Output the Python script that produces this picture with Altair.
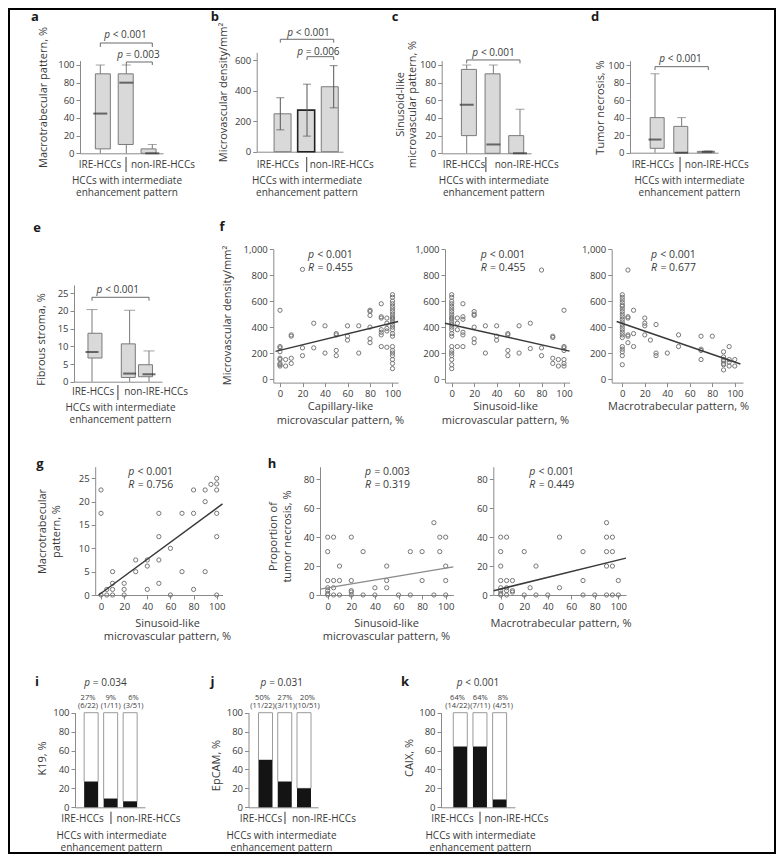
import altair as alt
import pandas as pd

# ---------------- layout constants ----------------
PAD = 1
OFF = 8 + PAD
W, H = 768 - 2 * PAD, 846 - 2 * PAD
FONT = "Open Sans"
TXT = "#3a3a3a"
AXC = "#8a8a8a"
BOX_F = "#d9d9d9"
BOX_S = "#7a7a7a"
MED = "#333333"
PT = "#777777"
LINE = "#3a3a3a"

# ---------------- data ----------------
groups = [1, 2, 3]  # IRE-HCCs, non-IRE-HCCs (2 subgroups)
e_groups = [1, 2.32, 3]  # panel e: boxes 2 and 3 drawn close together

# a: macrotrabecular pattern, %
a_lo = [0, 0, 0]
a_q1 = [5, 10, 0]
a_med = [45, 80, 0]
a_q3 = [90, 90, 5]
a_hi = [100, 100, 10]

# b: microvascular density (mean, SD)
b_mean = [248, 272, 425]
b_sd = [105, 170, 138]

# c: sinusoid-like microvascular pattern, %
c_lo = [0, 0, 0]
c_q1 = [20, 0, 0]
c_med = [55, 10, 0]
c_q3 = [95, 90, 20]
c_hi = [100, 100, 50]

# d: tumor necrosis, %
d_lo = [0, 0, 0]
d_q1 = [5, 0, 0]
d_med = [15, 0, 1]
d_q3 = [40, 30, 1.5]
d_hi = [90, 40, 2]

# e: fibrous stroma, %
e_lo = [0, 0, 0]
e_q1 = [6.7, 1.2, 1.4]
e_med = [8.4, 2.3, 2.1]
e_q3 = [13.7, 10.7, 4.8]
e_hi = [20.4, 20.2, 8.7]

# f: microvascular density vs patterns (x value -> list of y values)
f1_pts = {0: [530, 250, 240, 210, 160, 150, 120, 110, 100], 5: [150, 100],
          10: [340, 330, 160, 120], 20: [845, 240, 180], 30: [430, 240],
          40: [410, 200], 50: [350, 340, 220, 180], 60: [410, 330, 300],
          70: [410, 200], 80: [530, 520, 490, 400, 310, 280],
          90: [580, 480, 470, 380, 360, 340, 250], 95: [470, 430, 390, 370, 245],
          100: [650, 630, 600, 580, 560, 540, 520, 500, 480, 470, 460, 440, 420,
                400, 380, 350, 330, 250, 220, 200, 180, 150, 120, 80]}
f2_pts = {0: [650, 630, 600, 580, 560, 540, 520, 500, 480, 470, 460, 440, 420,
              400, 380, 350, 330, 250, 220, 200, 180, 150, 110, 80],
          5: [470, 430, 380, 250], 10: [580, 480, 460, 360, 340, 250],
          20: [520, 500, 490, 400, 310, 280], 30: [410, 200], 40: [410, 330, 300],
          50: [350, 340, 220, 180], 60: [410, 200], 70: [430, 235],
          80: [840, 240, 180], 90: [330, 320, 160, 120], 95: [150, 100],
          100: [530, 250, 240, 220, 150, 120, 100]}
f3_pts = {0: [650, 630, 610, 590, 570, 560, 540, 520, 500, 480, 460, 440, 420,
              400, 380, 360, 340, 320, 250, 230, 210, 180, 110],
          5: [840, 480, 470, 340, 330, 280], 10: [530, 350, 250],
          20: [470, 430, 410, 340], 25: [300], 30: [420, 200, 180], 40: [200],
          50: [340, 250], 70: [330, 230, 220, 150], 80: [330],
          90: [210, 170, 150, 140, 120, 110, 70], 95: [250, 150, 130, 100],
          100: [150, 100]}
f1_fit = ([-4, 105], [213, 443])
f2_fit = ([-6, 105], [430, 215])
f3_fit = ([-5, 105], [443, 115])

# g: macrotrabecular vs sinusoid-like
g_pts = {0: [22.5, 17.5, 0], 5: [1.2, 0], 10: [5, 2.5, 1.2, 0], 20: [2.5, 1.2, 0],
         30: [7.5, 5], 40: [7.5, 6.2, 1.2], 50: [17.5, 12.5, 7.5, 2.5],
         60: [10, 0], 70: [17.5, 5], 80: [22.5, 17.5, 1.2], 90: [22.5, 20, 5],
         95: [23.7], 100: [25, 23.8, 22.5, 17.5, 12.5, 0]}
g_fit = ([-2, 105], [0, 19.5])

# h: tumor necrosis vs sinusoid-like / macrotrabecular
h1_pts = {0: [40, 30, 10, 5, 3, 1, 0], 5: [40, 10, 5, 0], 10: [20, 10, 0],
          20: [40, 10, 3, 2, 0], 30: [30, 0], 40: [5, 0], 50: [20, 10, 5],
          60: [0], 70: [30, 0], 80: [30, 10], 90: [50, 0], 95: [40, 30],
          100: [40, 20, 10, 0]}
h2_pts = {0: [40, 30, 20, 10, 5, 3, 1, 0], 5: [40, 10, 5, 3, 0], 10: [10, 3, 2],
          20: [30, 0], 25: [5], 30: [20, 0], 40: [0], 50: [40, 5],
          70: [30, 10, 0], 80: [0], 90: [50, 40, 30, 20, 0], 95: [40, 30, 20, 0],
          100: [10, 0]}
h1_fit = ([-6.5, 106.5], [4, 19.5])
h2_fit = ([-6, 106.5], [3, 25.5])

# i-k: positive rates
i_pct = [27, 9, 6]
i_n = ["6/22", "1/11", "3/51"]
j_pct = [50, 27, 20]
j_n = ["11/22", "3/11", "10/51"]
k_pct = [64, 64, 8]
k_n = ["14/22", "7/11", "4/51"]

# ---------------- helpers ----------------
layers = []


def add(ch):
    layers.append(ch)


def sc(pa, va, pb, vb, p0, p1):
    k = (vb - va) / (pb - pa)
    return alt.Scale(domain=[round(va + (p0 - pa) * k, 4), round(va + (p1 - pa) * k, 4)],
                     range=[p0 - OFF, p1 - OFF], nice=False, zero=False)


def yax(xpx, values, title=None, tc=None, fmt=None, lh=13, fs=11):
    kw = dict(orient="left", offset=-(xpx - OFF), values=values, grid=False)
    if fmt:
        kw["format"] = fmt
    if title is None:
        kw["title"] = None
    else:
        kw.update(title=title, titleX=tc[0] - xpx, titleY=tc[1] - OFF, titleAngle=270,
                  titleBaseline="middle", titleAlign="center", titleLineHeight=lh,
                  titleFontSize=fs)
    return alt.Axis(**kw)


def xax(ypx, values=None, title=None, tc=None, ticks=True, labels=True, fs=11, lh=13):
    kw = dict(orient="bottom", offset=(ypx - OFF) - H, grid=False, ticks=ticks, labels=labels)
    if values is not None:
        kw["values"] = values
    if title is None:
        kw["title"] = None
    else:
        kw.update(title=title, titleX=tc[0] - OFF, titleY=tc[1] - ypx, titleAngle=0,
                  titleBaseline="middle", titleAlign="center", titleLineHeight=lh,
                  titleFontSize=fs)
    return alt.Axis(**kw)


def XY(xs, ys, x="x", y="y", xa=None, ya=None):
    return {"x": alt.X(x, type="quantitative", scale=xs, axis=xa),
            "y": alt.Y(y, type="quantitative", scale=ys, axis=ya)}


def texts(xs, ys, xv, yv, tv, **mk):
    df = pd.DataFrame(dict(x=xv, y=yv, t=tv))
    add(alt.Chart(df).mark_text(**mk).encode(**XY(xs, ys), text="t:N"))


def rules(xs, ys, x, x2, y, y2, **mk):
    df = pd.DataFrame(dict(x=x, x2=x2, y=y, y2=y2))
    add(alt.Chart(df).mark_rule(**mk).encode(**XY(xs, ys), x2="x2", y2="y2"))


def brackets(xs, ys, spec):
    X, X2, Y, Y2 = [], [], [], []
    for x1, x2, yt, yl in spec:
        X += [x1, x1, x2]
        X2 += [x2, x1, x2]
        Y += [yt, yt, yt]
        Y2 += [yt, yl, yl]
    rules(xs, ys, X, X2, Y, Y2, color="#6a6a6a", strokeWidth=1)


def ptext_center(xs, ys, xv, yv, rest, fs=10, dx=-15):
    texts(xs, ys, xv, yv, ["p"] * len(xv), align="right", fontStyle="italic",
          fontSize=fs, dx=dx, color=TXT)
    texts(xs, ys, xv, yv, rest, align="left", fontSize=fs, dx=dx + 2.8, color=TXT)


def stat_left(xs, ys, x, yp, yr, ptxt, rtxt, fs=10.5):
    texts(xs, ys, [x], [yp], ["p"], align="left", fontStyle="italic", fontSize=fs, color=TXT)
    texts(xs, ys, [x], [yp], [ptxt], align="left", fontSize=fs, dx=9.2, color=TXT)
    texts(xs, ys, [x], [yr], ["R"], align="left", fontStyle="italic", fontSize=fs, color=TXT)
    texts(xs, ys, [x], [yr], [rtxt], align="left", fontSize=fs, dx=9.4, color=TXT)


def letter(xs, ys, x, y, t):
    texts(xs, ys, [x], [y], [t], fontSize=13, fontWeight="bold", align="center",
          baseline="middle", dy=2, color="#1a1a1a")


def group_labels(xs, ys, xl, xr, yl, xd, yd1, yd2, fs=10):
    texts(xs, ys, [xl, xr], [yl, yl], ["IRE-HCCs", "non-IRE-HCCs"], fontSize=fs,
          align="center", baseline="middle", color=TXT)
    rules(xs, ys, [xd], [xd], [yd1], [yd2], color=TXT, strokeWidth=1)


def box_panel(pos, lo, q1, med, q3, hi, xs, ys, xa, ya, bw, cw):
    df = pd.DataFrame(dict(x=pos, lo=lo, q1=q1, med=med, q3=q3, hi=hi))
    base = alt.Chart(df)
    add(base.mark_rule(color=BOX_S, strokeWidth=1).encode(**XY(xs, ys, y="lo", xa=xa, ya=ya), y2="hi"))
    add(base.mark_tick(orient="horizontal", size=cw, thickness=1, color=BOX_S).encode(**XY(xs, ys, y="hi")))
    add(base.mark_bar(size=bw, fill=BOX_F, stroke=BOX_S, strokeWidth=1).encode(**XY(xs, ys, y="q1"), y2="q3"))
    add(base.mark_tick(orient="horizontal", size=bw - 1, thickness=2, color=MED).encode(**XY(xs, ys, y="med")))


def expand(pts):
    xv, yv = [], []
    for k, vals in pts.items():
        for v in vals:
            xv.append(k)
            yv.append(v)
    return xv, yv


def scatter(pts, fit, xs, ys, xa, ya, lcolor=LINE, lw=1.5):
    xv, yv = expand(pts)
    add(alt.Chart(pd.DataFrame(dict(x=xv, y=yv))).mark_point(
        shape="circle", filled=False, size=18, color=PT, strokeWidth=1, opacity=1
    ).encode(**XY(xs, ys, xa=xa, ya=ya)))
    add(alt.Chart(pd.DataFrame(dict(x=fit[0], y=fit[1]))).mark_line(
        color=lcolor, strokeWidth=lw).encode(**XY(xs, ys)))


def stack_panel(pct, nlab, xs, ys, xa, ya):
    df = pd.DataFrame(dict(x=groups, p=pct, z=[0, 0, 0], top=[100, 100, 100],
                           lab=[f"{v}%" for v in pct], n=[f"({s})" for s in nlab]))
    base = alt.Chart(df)
    add(base.mark_bar(size=14, fill="white", stroke="#9a9a9a", strokeWidth=1).encode(
        **XY(xs, ys, y="p", xa=xa, ya=ya), y2="top"))
    add(base.mark_bar(size=14, fill="#141414").encode(**XY(xs, ys, y="z"), y2="p"))
    texts(xs, ys, groups, [115.9] * 3, list(df["lab"]), fontSize=7.5, color=TXT)
    texts(xs, ys, groups, [107.1] * 3, list(df["n"]), fontSize=7.5, color=TXT)


HCC = ["HCCs with intermediate", "enhancement pattern"]

# ---------------- panel a ----------------
xs = sc(100.3, 1, 152.3, 3, 80, 163)
ys = sc(153.3, 0, 65, 100, 153.3, 60.6)
box_panel(groups, a_lo, a_q1, a_med, a_q3, a_hi, xs, ys,
          xax(153.3, title=HCC, tc=(126.5, 180), ticks=False, labels=False, fs=10, lh=12.3),
          yax(80, [0, 20, 40, 60, 80, 100], "Macrotrabecular pattern, %", (43, 97)), 15, 9)
group_labels(xs, ys, 0.99, 3.41, -13.2, 1.99, -4.2, -21.2)
brackets(xs, ys, [(1, 3, 124.9, 120.4), (2, 3, 103.4, 100)])
ptext_center(xs, ys, [1.95, 2.45], [134, 111.3], ["< 0.001", "= 0.003"])
letter(xs, ys, -1.51, 156.6, "a")

# ---------------- panel b ----------------
xs = sc(280.3, 1, 333.7, 3, 256.7, 343)
ys = sc(151.7, 0, 60, 600, 151.7, 52.4)
bdf = pd.DataFrame(dict(x=groups, m=b_mean, z=[0, 0, 0],
                        lo=[m - s for m, s in zip(b_mean, b_sd)],
                        hi=[m + s for m, s in zip(b_mean, b_sd)]))
bb = alt.Chart(bdf)
add(bb.mark_bar(size=17, fill=BOX_F).encode(
    **XY(xs, ys, y="m",
         xa=xax(151.7, title=HCC, tc=(306.5, 180), ticks=False, labels=False, fs=10, lh=12.3),
         ya=yax(256.7, [0, 200, 400, 600], "Microvascular density/mm²", (223, 92))),
    y2="z",
    stroke=alt.condition("datum.x == 2", alt.value("#222222"), alt.value(BOX_S)),
    strokeWidth=alt.condition("datum.x == 2", alt.value(1.6), alt.value(1))))
add(bb.mark_rule(color="#555555", strokeWidth=1).encode(**XY(xs, ys, y="lo"), y2="hi"))
add(bb.mark_tick(orient="horizontal", size=8, thickness=1, color="#555555").encode(**XY(xs, ys, y="lo")))
add(bb.mark_tick(orient="horizontal", size=8, thickness=1, color="#555555").encode(**XY(xs, ys, y="hi")))
group_labels(xs, ys, 0.91, 3.30, -87, 1.99, -34.7, -132.9)
brackets(xs, ys, [(1, 3, 735.6, 713.4), (2, 3, 621.7, 600)])
ptext_center(xs, ys, [2.04, 2.41], [776.8, 652.5], ["< 0.001", "= 0.006"])
letter(xs, ys, -1.45, 894.6, "b")

# ---------------- panel c ----------------
xs = sc(466.7, 1, 520, 3, 441.7, 531)
ys = sc(153.3, 0, 65, 100, 153.3, 60.6)
box_panel(groups, c_lo, c_q1, c_med, c_q3, c_hi, xs, ys,
          xax(153.3, title=HCC, tc=(493.3, 180), ticks=False, labels=False, fs=10, lh=12.3),
          yax(441.7, [0, 20, 40, 60, 80, 100], ["Sinusoid-like", "microvascular pattern, %"],
              (400, 104), lh=12.5), 15, 9)
group_labels(xs, ys, 0.9, 3.25, -13.2, 1.72, -4.2, -21.2)
brackets(xs, ys, [(1, 3, 105.7, 101.9)])
ptext_center(xs, ys, [1.99], [113.9], ["< 0.001"])
letter(xs, ys, -1.69, 156.6, "c")

# ---------------- panel d ----------------
xs = sc(655, 1, 708.3, 3, 630, 718)
ys = sc(152.7, 0, 65, 100, 152.7, 60.6)
box_panel(groups, d_lo, d_q1, d_med, d_q3, d_hi, xs, ys,
          xax(152.7, title=HCC, tc=(689, 180), ticks=False, labels=False, fs=10, lh=12.3),
          yax(630, [0, 20, 40, 60, 80, 100], "Tumor necrosis, %", (600, 107)), 14, 9)
group_labels(xs, ys, 0.92, 3.32, -14, 1.94, -4.9, -22)
brackets(xs, ys, [(1, 3, 98.1, 94.3)])
ptext_center(xs, ys, [1.94], [106.5], ["< 0.001"])
letter(xs, ys, -1.25, 157, "d")

# ---------------- panel e ----------------
xs = sc(92, 1, 149, 3, 74, 162)
ys = sc(381.7, 0, 293.3, 25, 381.7, 285)
box_panel(e_groups, e_lo, e_q1, e_med, e_q3, e_hi, xs, ys,
          xax(381.7, title=HCC, tc=(120, 407), ticks=False, labels=False, fs=10, lh=12.3),
          yax(74, [0, 5, 10, 15, 20, 25], "Fibrous stroma, %", (41.7, 339)), 14, 11)
group_labels(xs, ys, 1.04, 3.25, -2.83, 1.91, -0.93, -5.2)
brackets(xs, ys, [(1, 3, 23.87, 22.9)])
ptext_center(xs, ys, [1.89], [25.9], ["< 0.001"])
letter(xs, ys, -0.93, 44, "e")

# ---------------- panel f ----------------
ysf = sc(379, 0, 249.3, 1000, 382.6, 249.3)
fy_vals = [0, 200, 400, 600, 800, 1000]
tx = [0, 20, 40, 60, 80, 100]
xs = sc(280, 0, 392.5, 100, 273.3, 398.1)
scatter(f1_pts, f1_fit, xs, ysf,
        xax(382.6, tx, ["Capillary-like", "microvascular pattern, %"], (340, 406.7), lh=14),
        yax(273.3, fy_vals, "Microvascular density/mm²", (228, 315), fmt=",d"))
stat_left(xs, ysf, 24.9, 956, 853.5, "< 0.001", "= 0.455")
letter(xs, ysf, -51.6, 1187, "f")

xs = sc(451.7, 0, 564, 100, 445, 569.6)
scatter(f2_pts, f2_fit, xs, ysf,
        xax(382.6, tx, ["Sinusoid-like", "microvascular pattern, %"], (505, 406.7), lh=14),
        yax(445, fy_vals, fmt=",d"))
stat_left(xs, ysf, 25.8, 956, 853.5, "< 0.001", "= 0.455")

xs = sc(622.3, 0, 734.8, 100, 611.7, 743)
scatter(f3_pts, f3_fit, xs, ysf,
        xax(382.6, tx, "Macrotrabecular pattern, %", (678, 406.7)),
        yax(611.7, fy_vals, fmt=",d"))
stat_left(xs, ysf, 25.5, 956, 853.5, "< 0.001", "= 0.677")

# ---------------- panel g ----------------
xs = sc(101, 0, 216.7, 100, 95.2, 222.5)
ys = sc(595, 0, 478.3, 25, 595, 466.7)
scatter(g_pts, g_fit, xs, ys,
        xax(595, tx, ["Sinusoid-like", "microvascular pattern, %"], (167, 623.3), lh=13),
        yax(95.2, [0, 5, 10, 15, 20, 25], ["Macrotrabecular", "pattern, %"], (43, 531), lh=14))
stat_left(xs, ys, 23.6, 26.4, 23.6, "< 0.001", "= 0.756")
letter(xs, ys, -52.7, 28.56, "g")

# ---------------- panel h ----------------
ysh = sc(595, 0, 479.3, 80, 595, 466.7)
hy = [0, 20, 40, 60, 80]
xs = sc(327.7, 0, 445.7, 100, 320, 453.4)
scatter(h1_pts, h1_fit, xs, ysh,
        xax(595, tx, ["Sinusoid-like", "microvascular pattern, %"], (386, 623.3), lh=13),
        yax(320, hy, ["Proportion of", "tumor necrosis, %"], (273, 536), lh=14),
        lcolor="#8a8a8a", lw=1.2)
stat_left(xs, ysh, 31.6, 85.3, 76.1, "= 0.003", "= 0.319")
letter(xs, ysh, -47.2, 92.2, "h")

xs = sc(500.7, 0, 618.3, 100, 493.3, 626)
scatter(h2_pts, h2_fit, xs, ysh,
        xax(595, tx, "Macrotrabecular pattern, %", (560.5, 623.3)),
        yax(493.3, hy))
stat_left(xs, ysh, 24.3, 85.3, 76.1, "< 0.001", "= 0.449")

# ---------------- panels i, j, k ----------------
ysb = sc(807.3, 0, 712.7, 100, 807.3, 712.7)
yb = [0, 20, 40, 60, 80, 100]

xs = sc(88, 1, 133.5, 3, 75, 145)
stack_panel(i_pct, i_n, xs, ysb,
            xax(807.3, title=HCC, tc=(111, 835), ticks=False, labels=False, fs=10, lh=12.3),
            yax(75, yb, "K19, %", (42.5, 758)))
group_labels(xs, ysb, 0.76, 3.66, -12.7, 2.01, -4.65, -17.65)
ptext_center(xs, ysb, [1.75], [131], ["= 0.034"])
letter(xs, ysb, -1.24, 134.6, "i")

xs = sc(262.5, 1, 307.5, 3, 248.5, 318)
stack_panel(j_pct, j_n, xs, ysb,
            xax(807.3, title=HCC, tc=(281, 835), ticks=False, labels=False, fs=10, lh=12.3),
            yax(248.5, yb, "EpCAM, %", (216, 765)))
group_labels(xs, ysb, 0.93, 3.73, -12.7, 2.0, -4.65, -17.65)
ptext_center(xs, ysb, [1.84], [131], ["= 0.031"])
letter(xs, ysb, -1.22, 134.6, "j")

xs = sc(457.5, 1, 503, 3, 441, 515)
stack_panel(k_pct, k_n, xs, ysb,
            xax(807.3, title=HCC, tc=(480, 835), ticks=False, labels=False, fs=10, lh=12.3),
            yax(441, yb, "CAIX, %", (409, 757.5)))
group_labels(xs, ysb, 0.78, 3.59, -12.7, 1.99, -4.65, -17.65)
ptext_center(xs, ysb, [1.88], [131], ["< 0.001"])
letter(xs, ysb, -1.31, 134.6, "k")

# ---------------- assemble ----------------
chart = alt.layer(*layers).properties(
    width=W, height=H, autosize="none", padding=PAD
).resolve_scale(x="independent", y="independent").resolve_axis(
    x="independent", y="independent"
).configure_view(stroke="#000000", strokeWidth=2).configure_axis(
    labelFont=FONT, titleFont=FONT, labelColor=TXT, titleColor=TXT,
    labelFontSize=9.5, titleFontSize=11, titleFontWeight="normal",
    domainColor=AXC, tickColor=AXC, tickSize=4, labelPadding=2, grid=False
).configure_text(font=FONT, color=TXT)

chart.save("out.html", embed_options={"renderer": "svg", "actions": False})
